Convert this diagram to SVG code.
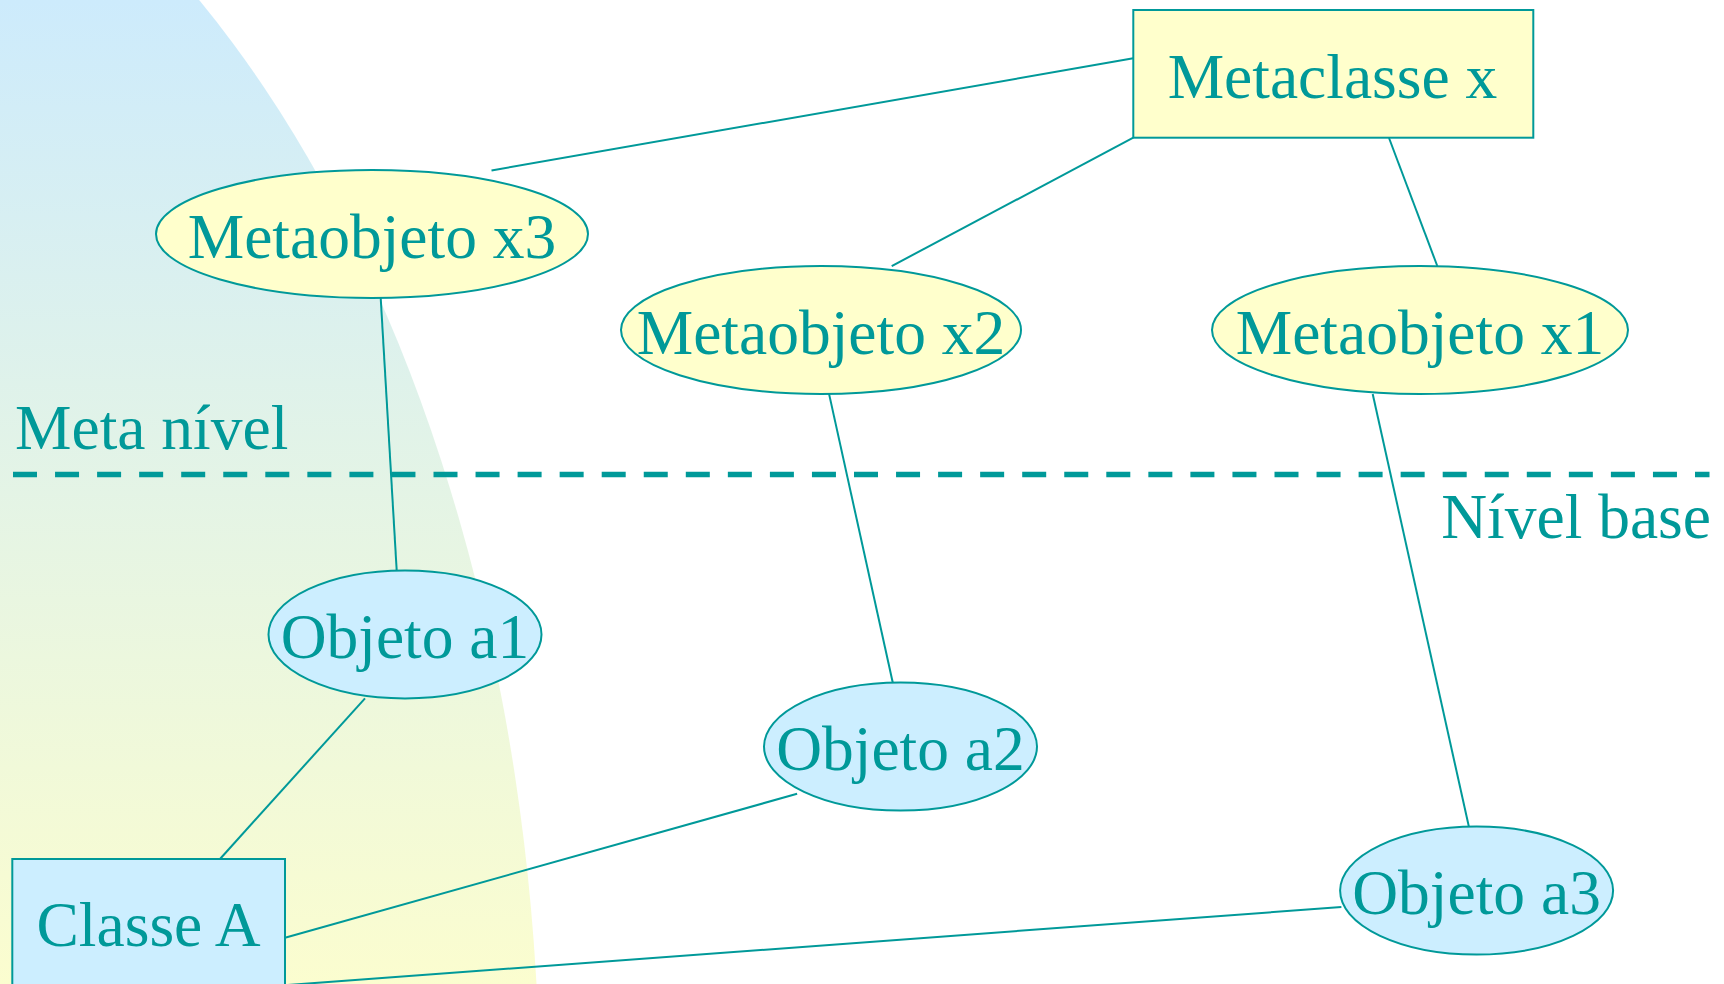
<svg xmlns="http://www.w3.org/2000/svg" width="1724" height="984" viewBox="0 0 1724 984">
  <defs>
    <linearGradient id="bgFade" gradientUnits="userSpaceOnUse" x1="0" y1="0" x2="0" y2="984">
      <stop offset="0" stop-color="#cdebfc"/>
      <stop offset="1" stop-color="#fbfdcf"/>
    </linearGradient>
    <style>
      .lbl { font-family: "Liberation Serif", "Times New Roman", serif; font-size: 63.5px; fill: #009999; }
      .mid { text-anchor: middle; }
      .meta { fill: #ffffcc; stroke: #009999; stroke-width: 2; }
      .base { fill: #cceeff; stroke: #009999; stroke-width: 2; }
      .link { stroke: #009999; stroke-width: 2; fill: none; }
      .divider { stroke: #009999; stroke-width: 5.5; stroke-dasharray: 24 18.05; fill: none; }
    </style>
  </defs>

  <!-- page background -->
  <rect x="0" y="0" width="1724" height="984" fill="#ffffff"/>
  <ellipse cx="-300" cy="1110" rx="840" ry="1380" fill="url(#bgFade)"/>

  <!-- level separator -->
  <g id="levels">
    <line class="divider" x1="13" y1="474.5" x2="1709.5" y2="474.5"/>
    <text class="lbl" x="15" y="449">Meta nível</text>
    <text class="lbl" x="1711" y="538" text-anchor="end">Nível base</text>
  </g>

  <!-- connectors -->
  <g id="connectors">
    <line class="link" x1="1133.3" y1="58.3" x2="491.5" y2="170.4"/>
    <line class="link" x1="1133.3" y1="137.7" x2="891.7" y2="266.1"/>
    <line class="link" x1="1389" y1="138" x2="1437.3" y2="266"/>
    <line class="link" x1="380.7" y1="298" x2="396.7" y2="570.6"/>
    <line class="link" x1="829" y1="393.6" x2="892.8" y2="682.8"/>
    <line class="link" x1="1372.7" y1="394" x2="1468.9" y2="826.8"/>
    <line class="link" x1="365" y1="698.3" x2="220" y2="859"/>
    <line class="link" x1="797.1" y1="793.8" x2="285" y2="937.7"/>
    <line class="link" x1="1341.4" y1="907" x2="285" y2="985.2"/>
  </g>

  <!-- meta level -->
  <g id="metaclasse-x">
    <rect class="meta" x="1133.3" y="10" width="400" height="127.7"/>
    <text class="lbl mid" x="1332.5" y="98.3">Metaclasse x</text>
  </g>
  <g id="metaobjeto-x3">
    <ellipse class="meta" cx="372" cy="234" rx="216" ry="64"/>
    <text class="lbl mid" x="372" y="258.3">Metaobjeto x3</text>
  </g>
  <g id="metaobjeto-x2">
    <ellipse class="meta" cx="821" cy="330" rx="200" ry="64"/>
    <text class="lbl mid" x="821" y="354.3">Metaobjeto x2</text>
  </g>
  <g id="metaobjeto-x1">
    <ellipse class="meta" cx="1420" cy="330" rx="208" ry="64"/>
    <text class="lbl mid" x="1420" y="354.3">Metaobjeto x1</text>
  </g>

  <!-- base level -->
  <g id="objeto-a1">
    <ellipse class="base" cx="405" cy="634.4" rx="136.5" ry="64"/>
    <text class="lbl mid" x="405" y="658">Objeto a1</text>
  </g>
  <g id="objeto-a2">
    <ellipse class="base" cx="900.5" cy="746.6" rx="136.5" ry="64"/>
    <text class="lbl mid" x="900.5" y="770.2">Objeto a2</text>
  </g>
  <g id="objeto-a3">
    <ellipse class="base" cx="1476.6" cy="890.6" rx="136.5" ry="64"/>
    <text class="lbl mid" x="1476.6" y="914.2">Objeto a3</text>
  </g>
  <g id="classe-a">
    <rect class="base" x="12.3" y="859" width="272.7" height="200"/>
    <text class="lbl mid" x="148.5" y="946">Classe A</text>
  </g>
</svg>
